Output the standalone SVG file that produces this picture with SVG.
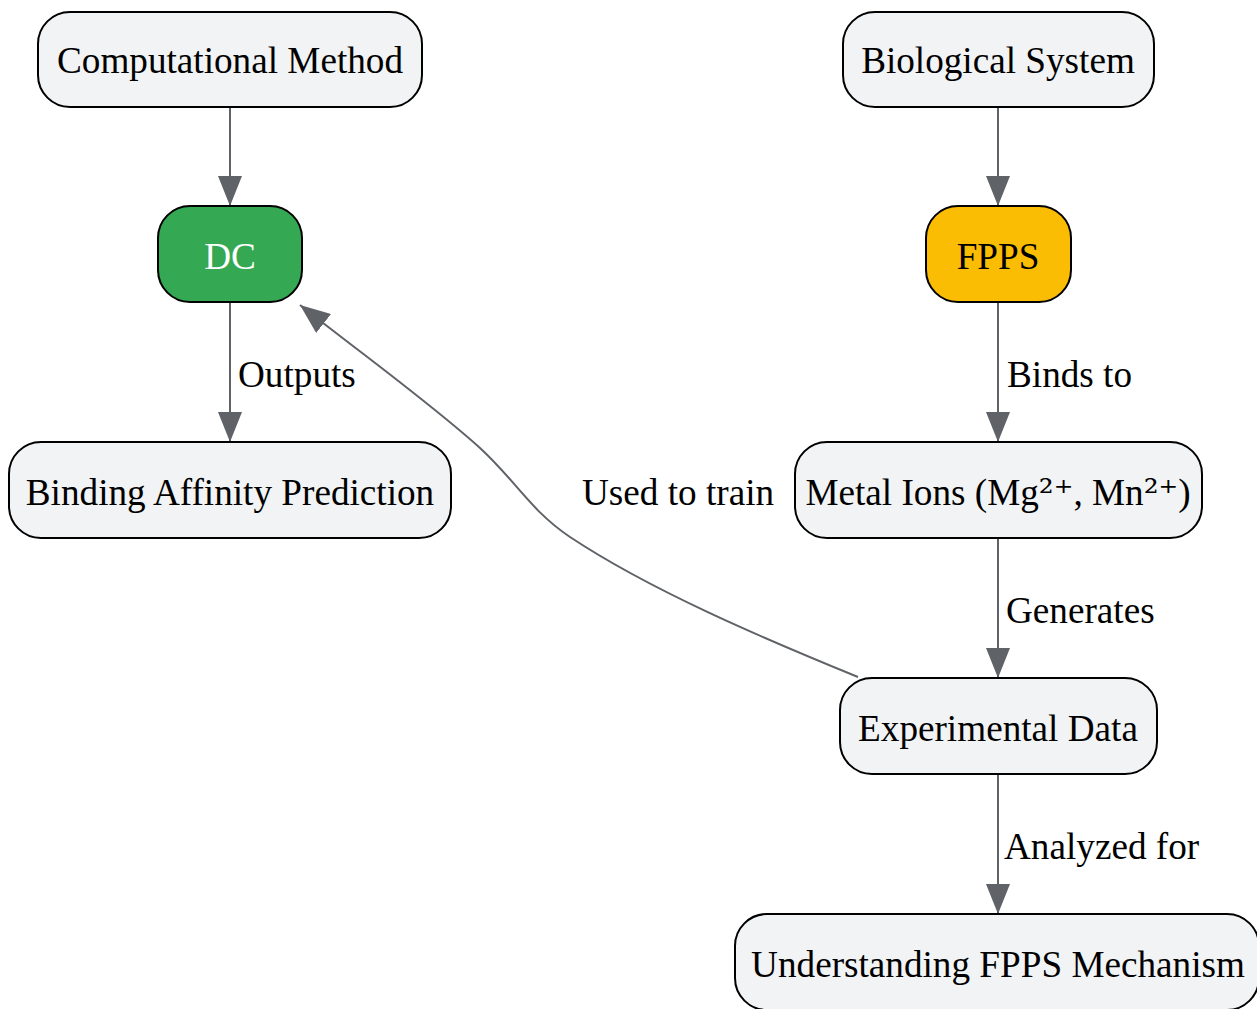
<svg xmlns="http://www.w3.org/2000/svg" width="1257" height="1009" viewBox="0 0 1257 1009">
<defs>
<style>
.node rect{fill:#f1f3f4;stroke:#000;stroke-width:2}
text{font-family:"Liberation Serif","Times New Roman",serif;font-size:37.2px;fill:#000}
.nt{text-anchor:middle;dominant-baseline:central}
.el{dominant-baseline:central}
.sup{font-family:"DejaVu Serif",serif}
.edge{fill:none;stroke:#5f6368;stroke-width:2}
</style>
<marker id="ah" markerUnits="userSpaceOnUse" markerWidth="30" markerHeight="24" refX="30" refY="12" orient="auto">
<path d="M0,0 L30,12 L0,24 z" fill="#5f6368"/>
</marker>
</defs>
<rect width="1257" height="1009" fill="#fff"/>
<g id="connectors">
<path class="edge" marker-end="url(#ah)" d="M230,107 L230,206"/>
<path class="edge" marker-end="url(#ah)" d="M998,107 L998,206"/>
<path class="edge" marker-end="url(#ah)" d="M230,302 L230,442"/>
<path class="edge" marker-end="url(#ah)" d="M998,302 L998,442"/>
<path class="edge" marker-end="url(#ah)" d="M998,538 L998,678"/>
<path class="edge" marker-end="url(#ah)" d="M998,774 L998,914"/>
<path class="edge" marker-end="url(#ah)" d="M858,677 C760,637 650,590 570,537 C530,510 515,480 480,448 C430,403 370,360 300,305"/>
<text class="el" x="238" y="374">Outputs</text>
<text class="el" x="1007" y="374">Binds to</text>
<text class="el" x="1006" y="610">Generates</text>
<text class="el" x="1004" y="846">Analyzed for</text>
<text class="el" x="582" y="492">Used to train</text>
</g>
<g id="computational-method" class="node"><rect x="38" y="12" width="384" height="95" rx="32"/><text class="nt" x="230" y="60">Computational Method</text></g>
<g id="biological-system" class="node"><rect x="843" y="12" width="311" height="95" rx="32"/><text class="nt" x="998" y="60">Biological System</text></g>
<g id="dc" class="node"><rect x="158" y="206" width="144" height="96" rx="32" style="fill:#34a853"/><text class="nt" x="230" y="256" style="fill:#fff">DC</text></g>
<g id="fpps" class="node"><rect x="926" y="206" width="145" height="96" rx="32" style="fill:#fbbc04"/><text class="nt" x="998" y="256">FPPS</text></g>
<g id="binding-affinity" class="node"><rect x="9" y="442" width="442" height="96" rx="32"/><text class="nt" x="230" y="492">Binding Affinity Prediction</text></g>
<g id="metal-ions" class="node"><rect x="795" y="442" width="407" height="96" rx="32"/><text class="nt" x="998" y="492">Metal Ions (Mg<tspan class="sup">²⁺</tspan>, Mn<tspan class="sup">²⁺</tspan>)</text></g>
<g id="experimental-data" class="node"><rect x="840" y="678" width="317" height="96" rx="32"/><text class="nt" x="998" y="728">Experimental Data</text></g>
<g id="understanding" class="node"><rect x="735" y="914" width="524" height="96" rx="32"/><text class="nt" x="998" y="964">Understanding FPPS Mechanism</text></g>
</svg>
